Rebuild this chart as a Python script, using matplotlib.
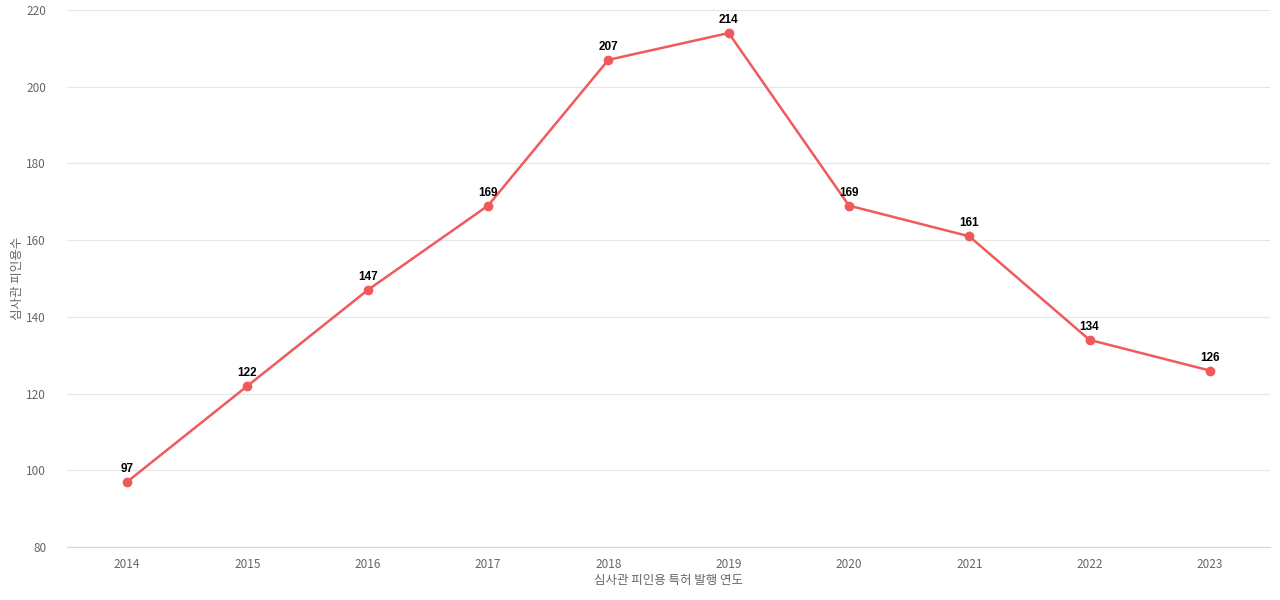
import matplotlib
matplotlib.use("Agg")
import matplotlib.pyplot as plt

plt.rcParams['font.family'] = ['Noto Sans CJK KR', 'DejaVu Sans']

years = ["2014", "2015", "2016", "2017", "2018", "2019", "2020", "2021", "2022", "2023"]
counts = [97, 122, 147, 169, 207, 214, 169, 161, 134, 126]

fig = plt.figure(figsize=(12.8, 6.0), dpi=100)
ax = fig.add_axes([67 / 1280, 1 - 547 / 600, 1203 / 1280, 537 / 600])

x = list(range(len(years)))
ax.plot(x, counts, color="#f05a5a", linewidth=1.8, marker="o", markersize=6)
for xi, v in zip(x, counts):
    ax.annotate(str(v), (xi, v), textcoords="offset points", xytext=(0, 5),
                ha="center", va="bottom", fontsize=8.5, fontweight="bold",
                family=['Liberation Sans', 'DejaVu Sans'])

ax.set_xlim(-0.5, len(years) - 0.5)
ax.set_ylim(80, 220)
ax.set_yticks(range(80, 221, 20))
ax.set_xticks(x)
ax.set_xticklabels(years)
ax.grid(axis="y", color="#e6e6e6", linewidth=0.8)
ax.set_axisbelow(True)
for s in ["top", "right", "left"]:
    ax.spines[s].set_visible(False)
ax.spines["bottom"].set_color("#ccd6eb")
ax.tick_params(axis="both", length=0, colors="#666666", labelsize=8.5, pad=8)
ax.tick_params(axis="y", pad=15)
ax.set_xlabel("심사관 피인용 특허 발행 연도", color="#666666", fontsize=9, labelpad=2)
ax.set_ylabel("심사관 피인용수", color="#666666", fontsize=9, labelpad=2)

fig.savefig("out.png", dpi=100)
